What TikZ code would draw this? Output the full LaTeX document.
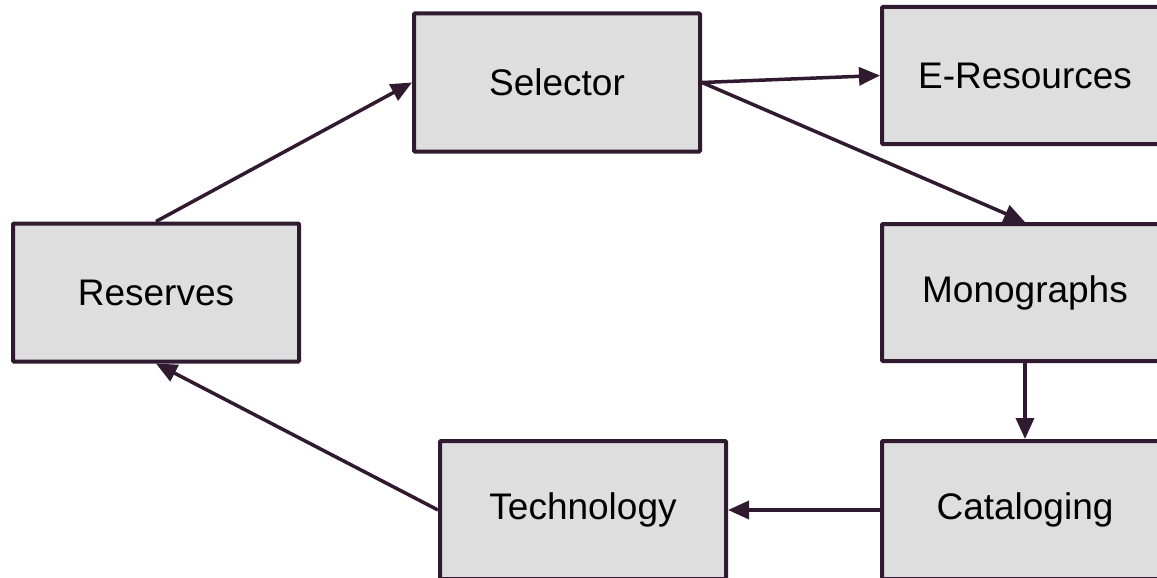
\documentclass[tikz,border=0pt]{standalone}
\usepackage{fontspec}
\setmainfont{Liberation Sans}
\usetikzlibrary{arrows.meta}
\definecolor{edge}{HTML}{2F1A2F}
\definecolor{boxfill}{HTML}{DEDEDE}
\tikzset{
  unitbox/.style={draw=edge, fill=boxfill, line width=4pt, rounded corners=1pt,
    minimum width=286pt, minimum height=138pt, inner sep=0pt,
    font=\fontsize{37}{41}\selectfont, text=black},
  conn/.style={draw=edge, line width=3.5pt, -{Triangle[length=21pt,width=18pt]}}
}
\begin{document}
\begin{tikzpicture}[x=1pt,y=-1pt]
\useasboundingbox (0,0) rectangle (1157,578);
\clip (0,0) rectangle (1157,578);
\node[unitbox] (sel) at (557,82.5) {Selector};
\node[unitbox, minimum height=137pt] (eres) at (1025,75.5) {E-Resources};
\node[unitbox, minimum height=137pt] (mono) at (1025,292.5) {Monographs};
\node[unitbox] (cat) at (1025,510) {Cataloging};
\node[unitbox] (res) at (156,292.5) {Reserves};
\node[unitbox] (tech) at (583,510) {Technology};
\draw[conn] (res.north) -- (sel.west);
\draw[conn] (sel.east) -- (eres.west);
\draw[conn] (sel.east) -- (mono.north);
\draw[conn] (mono.south) -- (cat.north);
\draw[conn] (cat.west) -- (tech.east);
\draw[conn] (tech.west) -- (res.south);
\end{tikzpicture}
\end{document}
